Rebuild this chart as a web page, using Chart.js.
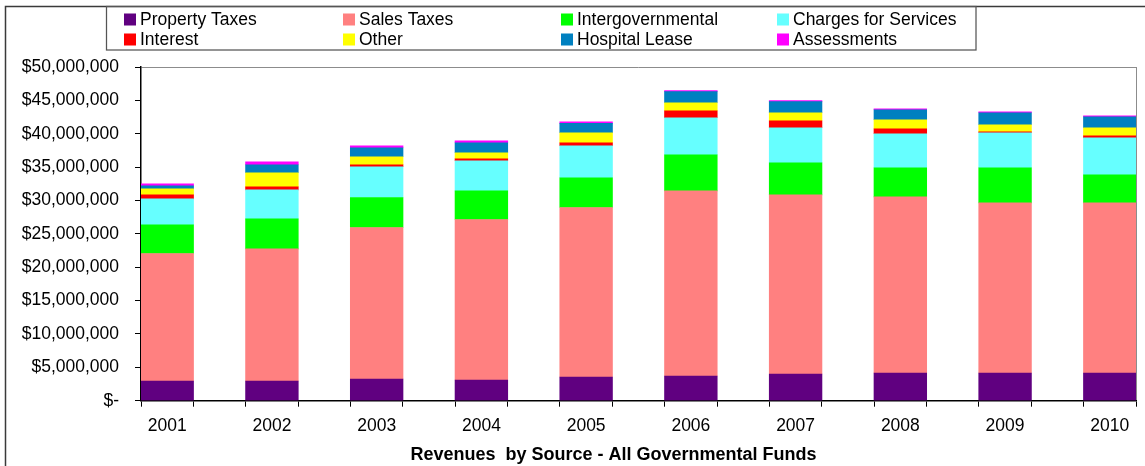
<!DOCTYPE html>
<html>
<head>
<meta charset="utf-8">
<script src="https://cdn.jsdelivr.net/npm/chart.js@4.4.1/dist/chart.umd.min.js"></script>
<style>
html,body{margin:0;padding:0;background:#fff;overflow:hidden}
canvas{display:block}
</style>
</head>
<body>
<canvas id="c" width="1145" height="466"></canvas>
<script>
// ---- data (US dollars) ----
const years = ['2001','2002','2003','2004','2005','2006','2007','2008','2009','2010'];
const propertyTaxes      = [2950000, 2950000, 3250000, 3100000, 3550000, 3700000, 4000000, 4150000, 4150000, 4150000];
const salesTaxes         = [19100000, 19800000, 22700000, 24050000, 25400000, 27750000, 26850000, 26400000, 25500000, 25500000];
const intergovernmental  = [4300000, 4500000, 4500000, 4300000, 4450000, 5400000, 4800000, 4350000, 5250000, 4200000];
const chargesForServices = [3900000, 4350000, 4600000, 4500000, 4800000, 5550000, 5250000, 5100000, 5250000, 5550000];
const interest           = [600000, 450000, 300000, 300000, 450000, 1050000, 1050000, 750000, 150000, 300000];
const other              = [900000, 2100000, 1200000, 900000, 1500000, 1200000, 1200000, 1350000, 1050000, 1200000];
const hospitalLease      = [450000, 1200000, 1350000, 1500000, 1400000, 1650000, 1650000, 1500000, 1800000, 1650000];
const assessments        = [300000, 450000, 300000, 300000, 250000, 150000, 150000, 150000, 150000, 150000];

const seriesNames  = ['Property Taxes','Sales Taxes','Intergovernmental','Charges for Services','Interest','Other','Hospital Lease','Assessments'];
const seriesValues = [propertyTaxes, salesTaxes, intergovernmental, chargesForServices, interest, other, hospitalLease, assessments];
const seriesColors = ['#600080','#FF8080','#00FF00','#66FFFF','#FF0000','#FFFF00','#0080C0','#FF00FF'];

const yMax = 50000000;
const yStep = 5000000;
const chartTitle = 'Revenues  by Source - All Governmental Funds';

// ---- rendering ----
const FONT = '"Liberation Sans", Arial, sans-serif';
Chart.defaults.font.family = FONT;
Chart.defaults.color = '#000';

const xMin = -0.25, xMax = years.length - 0.75;
const isInt = v => Math.abs(v - Math.round(v)) < 1e-6;

const decorPlugin = {
  id: 'decor',
  afterLayout(chart) {
    const t = chart.titleBlock;
    if (t) {
      const shift = 613.5 - (t.left + t.right) / 2;
      t.left += shift; t.right += shift;
    }
  },
  beforeDraw(chart) {
    const ctx = chart.ctx;
    ctx.save();
    ctx.fillStyle = '#fff';
    ctx.fillRect(0, 0, chart.width, chart.height);
    // outer frame (top + left visible)
    ctx.strokeStyle = '#3a3a3a';
    ctx.lineWidth = 1.5;
    ctx.beginPath();
    ctx.moveTo(5.5, chart.height);
    ctx.lineTo(5.5, 6.5);
    ctx.lineTo(chart.width, 6.5);
    ctx.stroke();
    ctx.restore();
  },
  afterDraw(chart) {
    const ctx = chart.ctx;
    ctx.save();
    // legend box
    ctx.strokeStyle = '#555';
    ctx.lineWidth = 1.25;
    ctx.strokeRect(106.5, 6.5, 869.5, 43.5);
    const cols = [124, 343, 561, 777];
    const rows = [19.5, 39.5];
    ctx.font = '17.5px ' + FONT;
    ctx.textBaseline = 'middle';
    ctx.textAlign = 'left';
    chart.data.datasets.forEach((ds, i) => {
      const x = cols[i % 4], y = rows[Math.floor(i / 4)];
      ctx.fillStyle = ds.backgroundColor;
      ctx.fillRect(x, y - 6, 12, 12);
      ctx.fillStyle = '#000';
      ctx.fillText(ds.label, x + 16, y + 1);
    });
    ctx.restore();
  }
};

new Chart(document.getElementById('c'), {
  type: 'bar',
  data: {
    datasets: seriesNames.map((name, s) => ({
      label: name,
      data: seriesValues[s].map((v, i) => ({ x: i, y: v })),
      backgroundColor: seriesColors[s],
      borderWidth: 0,
      barThickness: 52.7
    }))
  },
  options: {
    responsive: false,
    animation: false,
    devicePixelRatio: 1,
    layout: { padding: { left: 0, top: 67, right: 3, bottom: 0 } },
    plugins: {
      legend: { display: false },
      tooltip: { enabled: false },
      title: {
        display: true,
        text: chartTitle,
        position: 'bottom',
        color: '#000',
        font: { size: 18, weight: 'bold', family: FONT },
        padding: { top: 0, bottom: 0 }
      }
    },
    scales: {
      x: {
        type: 'linear',
        stacked: true,
        offset: false,
        min: xMin,
        max: xMax,
        afterBuildTicks(scale) {
          const t = [];
          years.forEach((_, i) => { t.push({ value: i - 0.25 }, { value: i }, { value: i + 0.25 }); });
          scale.ticks = t;
        },
        afterFit(scale) { scale.height = 43.7; },
        ticks: {
          autoSkip: false,
          maxRotation: 0,
          minRotation: 0,
          padding: 9,
          color: '#000',
          font: { size: 17.5, family: FONT },
          callback(v) { return isInt(v) ? years[Math.round(v)] : ''; }
        },
        grid: {
          offset: false,
          drawOnChartArea: true,
          tickLength: 6,
          lineWidth: 1,
          color: ctx => (ctx.tick && Math.abs(ctx.tick.value - xMax) < 1e-6) ? '#8c8c8c' : 'rgba(0,0,0,0)',
          tickColor: ctx => (ctx.tick && isInt(ctx.tick.value)) ? 'rgba(0,0,0,0)' : '#000'
        },
        border: { display: true, color: '#000', width: 1.5 }
      },
      y: {
        stacked: true,
        min: 0,
        max: yMax,
        afterFit(scale) { scale.width = 141; },
        ticks: {
          stepSize: yStep,
          padding: 16,
          color: '#000',
          font: { size: 17.5, family: FONT },
          callback(v) { return v === 0 ? '$-' : '$' + v.toLocaleString('en-US'); }
        },
        grid: {
          drawOnChartArea: true,
          tickLength: 6,
          lineWidth: 1,
          color: ctx => (ctx.tick && ctx.tick.value === yMax) ? '#8c8c8c' : 'rgba(0,0,0,0)',
          tickColor: '#000'
        },
        border: { display: true, color: '#000', width: 1.5 }
      }
    }
  },
  plugins: [decorPlugin]
});
</script>
</body>
</html>
